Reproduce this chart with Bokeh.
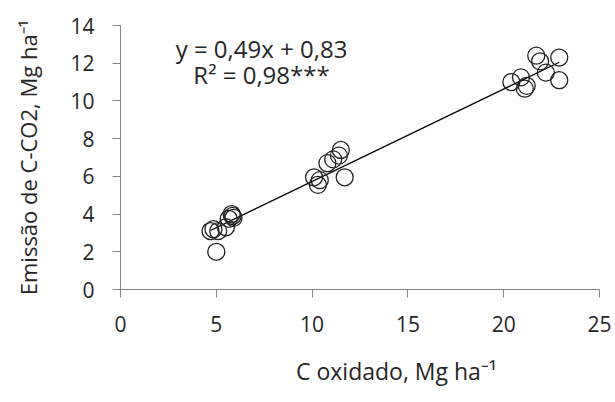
from bokeh.plotting import figure
from bokeh.models import Range1d, FixedTicker, Label, Div
from bokeh.layouts import column
from bokeh.embed import file_html
from bokeh.resources import INLINE

# Data
x_oxid = [4.7, 4.85, 5.1, 5.5, 5.65, 5.85, 5.8, 5.9, 5.0,
          10.1, 10.3, 10.4, 10.8, 11.1, 11.4, 11.5, 11.7,
          20.4, 20.9, 21.1, 21.2, 21.7, 21.9, 22.2, 22.9, 22.9]
y_emis = [3.1, 3.2, 3.1, 3.3, 3.75, 3.9, 4.0, 3.8, 2.0,
          5.95, 5.55, 5.8, 6.7, 6.9, 7.1, 7.4, 5.95,
          11.0, 11.25, 10.65, 10.8, 12.4, 12.1, 11.5, 12.3, 11.1]
slope = 0.49
intercept = 0.83
eq_text = "y = 0,49x + 0,83"
r2_text = "R² = 0,98***"
x_ticks = [0, 5, 10, 15, 20, 25]
y_ticks = [0, 2, 4, 6, 8, 10, 12, 14]
x_title = "C oxidado, Mg ha⁻¹"
y_title = "Emissão de C-CO2, Mg ha⁻¹"

FONT = "Open Sans"
TXT = "#262626"
AX = "#868686"

p = figure(width=615, height=352, output_backend="svg", toolbar_location=None,
           x_range=Range1d(0, 25), y_range=Range1d(0, 14),
           min_border_left=120, min_border_right=16, min_border_top=25,
           min_border_bottom=63)
p.outline_line_color = None
p.xgrid.grid_line_color = None
p.ygrid.grid_line_color = None

# regression line
xs = [min(x_oxid), max(x_oxid)]
p.line(xs, [slope * v + intercept for v in xs], line_color="black", line_width=1.2)

p.scatter(x_oxid, y_emis, marker="circle", size=17, fill_color=None,
          line_color="#222222", line_width=1.3)

for ax in (p.xaxis[0], p.yaxis[0]):
    ax.axis_line_color = AX
    ax.major_tick_line_color = AX
    ax.minor_tick_line_color = None
    ax.major_tick_in = 0
    ax.major_tick_out = 8
    ax.major_label_text_font = FONT
    ax.major_label_text_font_size = "21px"
    ax.major_label_text_color = TXT
    ax.axis_label_text_font = FONT
    ax.axis_label_text_font_size = "22px"
    ax.axis_label_text_font_style = "normal"
    ax.axis_label_text_color = TXT

p.xaxis[0].ticker = FixedTicker(ticks=x_ticks)
p.yaxis[0].ticker = FixedTicker(ticks=y_ticks)
p.xaxis[0].major_label_standoff = 18
p.yaxis[0].major_label_standoff = 18
p.yaxis[0].axis_label = y_title
p.yaxis[0].axis_label_standoff = 24

p.add_layout(Label(x=7.36, y=12.8, text=eq_text, text_font=FONT,
                   text_font_size="24px", text_color=TXT,
                   text_align="center", text_baseline="middle"))
p.add_layout(Label(x=7.36, y=11.4, text=r2_text, text_font=FONT,
                   text_font_size="24px", text_color=TXT,
                   text_align="center", text_baseline="middle"))

# x title below the chart, placed as in the reference (not centred on the frame)
x_title_div = Div(text=x_title, width=300, height=44, margin=(4, 0, 0, 296),
                  styles={"font-family": FONT, "font-size": "23px",
                          "color": TXT, "line-height": "1.35",
                          "white-space": "nowrap"})

layout = column(p, x_title_div, spacing=0)

open("out.html", "w").write(file_html(layout, INLINE))
